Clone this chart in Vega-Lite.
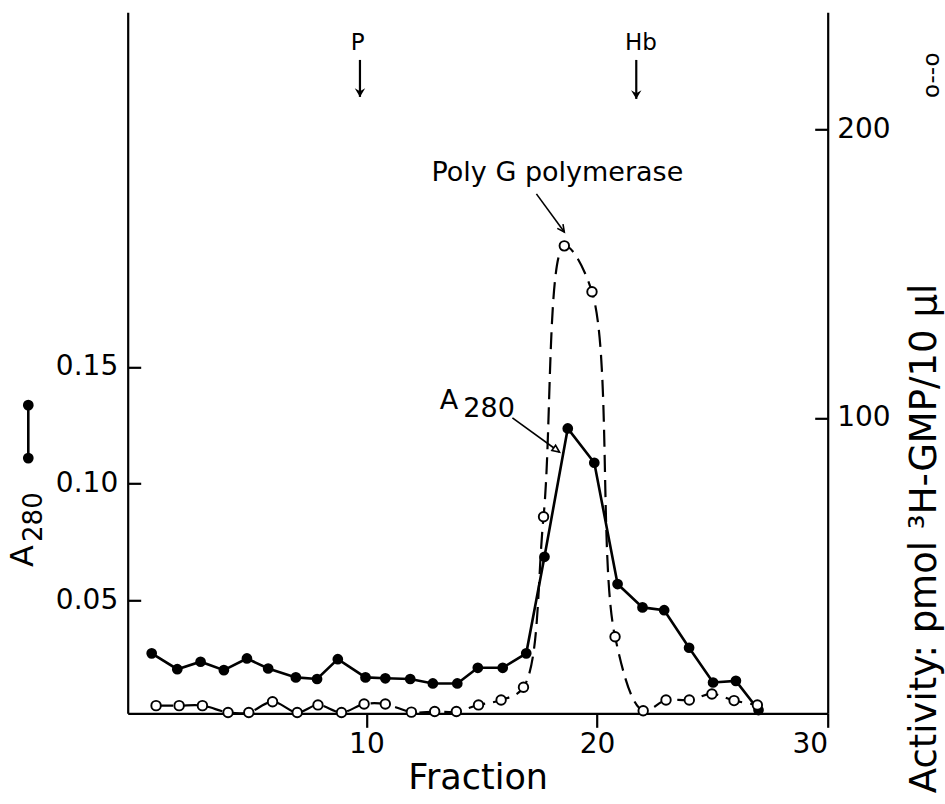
{
  "$schema": "https://vega.github.io/schema/vega-lite/v6.json",
  "width": 700,
  "height": 701,
  "autosize": {"type": "none"},
  "padding": {"left": 127.7, "top": 12.3, "right": 117.3, "bottom": 90.7},
  "background": "white",
  "config": {
    "view": {"stroke": null},
    "font": "DejaVu Sans",
    "axis": {
      "domainColor": "black", "tickColor": "black", "labelColor": "black", "titleColor": "black",
      "grid": false, "domainWidth": 2.2, "tickWidth": 2.2,
      "labelFont": "DejaVu Sans", "titleFont": "DejaVu Sans",
      "labelFontWeight": "normal", "titleFontWeight": "normal"
    }
  },
  "datasets": {
    "a280": [
      {"f": 0.69, "a": 0.0272}, {"f": 1.80, "a": 0.0204}, {"f": 2.81, "a": 0.0236}, {"f": 3.82, "a": 0.0200},
      {"f": 4.82, "a": 0.0250}, {"f": 5.74, "a": 0.0207}, {"f": 6.94, "a": 0.0169}, {"f": 7.86, "a": 0.0162},
      {"f": 8.76, "a": 0.0247}, {"f": 9.96, "a": 0.0169}, {"f": 10.82, "a": 0.0165}, {"f": 11.90, "a": 0.0162},
      {"f": 12.88, "a": 0.0143}, {"f": 13.94, "a": 0.0143}, {"f": 14.83, "a": 0.0210}, {"f": 15.91, "a": 0.0210},
      {"f": 16.93, "a": 0.0272}, {"f": 17.72, "a": 0.0686}, {"f": 18.73, "a": 0.1236}, {"f": 19.88, "a": 0.1089},
      {"f": 20.89, "a": 0.0569}, {"f": 21.97, "a": 0.0469}, {"f": 22.91, "a": 0.0457}, {"f": 23.99, "a": 0.0296},
      {"f": 25.03, "a": 0.0147}, {"f": 26.02, "a": 0.0154}, {"f": 27.00, "a": 0.0029}
    ],
    "activity": [
      {"f": 0.88, "v": 0.35}, {"f": 1.88, "v": 0.35}, {"f": 2.89, "v": 0.35}, {"f": 4.00, "v": -2.0},
      {"f": 4.90, "v": -2.0}, {"f": 5.93, "v": 1.7}, {"f": 7.00, "v": -2.0}, {"f": 7.90, "v": 0.6},
      {"f": 8.92, "v": -2.0}, {"f": 9.90, "v": 0.9}, {"f": 10.82, "v": 0.9}, {"f": 11.95, "v": -1.9},
      {"f": 12.96, "v": -1.7}, {"f": 13.90, "v": -1.7}, {"f": 14.86, "v": 0.6}, {"f": 15.84, "v": 2.3},
      {"f": 16.81, "v": 6.7}, {"f": 17.68, "v": 65.8}, {"f": 18.58, "v": 159.6}, {"f": 19.78, "v": 143.7},
      {"f": 20.78, "v": 24.2}, {"f": 22.00, "v": -1.4}, {"f": 22.99, "v": 2.3}, {"f": 24.00, "v": 2.3},
      {"f": 24.98, "v": 4.4}, {"f": 25.94, "v": 2.1}, {"f": 26.95, "v": 0.6}
    ],
    "markerNotes": [
      {"f": 9.62, "v": 229.9, "label": "P"},
      {"f": 21.9, "v": 229.9, "label": "Hb"}
    ],
    "polyNote": [{"f": 18.28, "v": 184.9, "label": "Poly G polymerase"}],
    "a280Note": [
      {"f": 13.58, "v": 106.0, "label": "A"},
      {"f": 15.32, "v": 103.1, "label": "280"}
    ],
    "markerArrows": [
      {"f": 9.72, "v": 224, "f2": 9.72, "v2": 211.2},
      {"f": 21.7, "v": 224, "f2": 21.7, "v2": 210.5}
    ],
    "polyArrow": [{"f": 17.37, "v": 177.6, "f2": 18.58, "v2": 164.4}],
    "a280Arrow": [{"f": 16.33, "v": 100.0, "f2": 18.37, "v2": 88.2}],
    "rightTitle": [{"f": 34.22, "v": -30, "label": "Activity: pmol ³H-GMP/10 μl"}],
    "rightSymbol": [{"f": 34.52, "v": 218.7, "label": "o--o"}],
    "leftSymbol": [{"f": -4.66, "a": 0.1336, "a2": 0.1109}],
    "leftSymbolEnds": [{"f": -4.66, "a": 0.1336}, {"f": -4.66, "a": 0.1109}],
    "leftTitleA": [{"f": -4.87, "a": 0.0689, "label": "A"}],
    "leftTitleSub": [{"f": -4.41, "a": 0.0856, "label": "280"}]
  },
  "layer": [
    {
      "layer": [
        {
          "data": {"name": "a280"},
          "mark": {"type": "line", "color": "black", "strokeWidth": 2.6},
          "encoding": {
            "x": {"field": "f", "type": "quantitative",
              "scale": {"domain": [-0.35, 30], "nice": false, "zero": false},
              "axis": {"orient": "bottom", "values": [10, 20, 30], "tickSize": 14, "labelPadding": 3,
                "labelFontSize": 28, "title": "Fraction", "titleFontSize": 35, "titlePadding": 2}},
            "y": {"field": "a", "type": "quantitative",
              "scale": {"domain": [0.0015, 0.302], "nice": false, "zero": false},
              "axis": {"orient": "left", "values": [0.05, 0.1, 0.15], "format": ".2f", "tickSize": -13,
                "labelPadding": 23, "labelFontSize": 28, "title": null}}
          }
        },
        {
          "data": {"name": "a280"},
          "mark": {"type": "point", "filled": true, "color": "black", "size": 115, "opacity": 1},
          "encoding": {
            "x": {"field": "f", "type": "quantitative"},
            "y": {"field": "a", "type": "quantitative"}
          }
        },
        {
          "data": {"name": "leftSymbol"},
          "mark": {"type": "rule", "color": "black", "strokeWidth": 2.6},
          "encoding": {
            "x": {"field": "f", "type": "quantitative"},
            "y": {"field": "a", "type": "quantitative"},
            "y2": {"field": "a2"}
          }
        },
        {
          "data": {"name": "leftSymbolEnds"},
          "mark": {"type": "point", "filled": true, "color": "black", "size": 115, "opacity": 1},
          "encoding": {
            "x": {"field": "f", "type": "quantitative"},
            "y": {"field": "a", "type": "quantitative"}
          }
        },
        {
          "data": {"name": "leftTitleA"},
          "mark": {"type": "text", "angle": 270, "fontSize": 32, "align": "center", "baseline": "middle", "color": "black"},
          "encoding": {
            "x": {"field": "f", "type": "quantitative"},
            "y": {"field": "a", "type": "quantitative"},
            "text": {"field": "label"}
          }
        },
        {
          "data": {"name": "leftTitleSub"},
          "mark": {"type": "text", "angle": 270, "fontSize": 26, "align": "center", "baseline": "middle", "color": "black"},
          "encoding": {
            "x": {"field": "f", "type": "quantitative"},
            "y": {"field": "a", "type": "quantitative"},
            "text": {"field": "label"}
          }
        }
      ]
    },
    {
      "layer": [
        {
          "data": {"name": "activity"},
          "mark": {"type": "line", "color": "black", "strokeWidth": 2.2, "strokeDash": [17, 8], "interpolate": "catmull-rom", "clip": true},
          "encoding": {
            "x": {"field": "f", "type": "quantitative"},
            "y": {"field": "v", "type": "quantitative",
              "scale": {"domain": [-2.3, 240.5], "nice": false, "zero": false},
              "axis": {"orient": "right", "values": [100, 200], "tickSize": -13, "labelPadding": 22,
                "labelFontSize": 28, "title": null}}
          }
        },
        {
          "data": {"name": "activity"},
          "mark": {"type": "point", "filled": true, "fill": "white", "stroke": "black", "strokeWidth": 1.9, "size": 90, "opacity": 1},
          "encoding": {
            "x": {"field": "f", "type": "quantitative"},
            "y": {"field": "v", "type": "quantitative"}
          }
        },
        {
          "data": {"name": "markerNotes"},
          "mark": {"type": "text", "fontSize": 23, "align": "center", "baseline": "middle", "color": "black"},
          "encoding": {
            "x": {"field": "f", "type": "quantitative"},
            "y": {"field": "v", "type": "quantitative"},
            "text": {"field": "label"}
          }
        },
        {
          "data": {"name": "polyNote"},
          "mark": {"type": "text", "fontSize": 27, "align": "center", "baseline": "middle", "color": "black"},
          "encoding": {
            "x": {"field": "f", "type": "quantitative"},
            "y": {"field": "v", "type": "quantitative"},
            "text": {"field": "label"}
          }
        },
        {
          "data": {"name": "a280Note"},
          "mark": {"type": "text", "fontSize": 27, "align": "center", "baseline": "middle", "color": "black"},
          "encoding": {
            "x": {"field": "f", "type": "quantitative"},
            "y": {"field": "v", "type": "quantitative"},
            "text": {"field": "label"}
          }
        },
        {
          "data": {"name": "markerArrows"},
          "mark": {"type": "rule", "color": "black", "strokeWidth": 2.2},
          "encoding": {
            "x": {"field": "f", "type": "quantitative"},
            "y": {"field": "v", "type": "quantitative"},
            "x2": {"field": "f2"},
            "y2": {"field": "v2"}
          }
        },
        {
          "data": {"name": "markerArrows"},
          "mark": {"type": "point", "shape": "M0,0L-0.6,-1L0,-0.65L0.6,-1Z", "filled": true, "color": "black", "size": 300, "opacity": 1},
          "encoding": {
            "x": {"field": "f2", "type": "quantitative"},
            "y": {"field": "v2", "type": "quantitative"}
          }
        },
        {
          "data": {"name": "polyArrow"},
          "mark": {"type": "rule", "color": "black", "strokeWidth": 1.6},
          "encoding": {
            "x": {"field": "f", "type": "quantitative"},
            "y": {"field": "v", "type": "quantitative"},
            "x2": {"field": "f2"},
            "y2": {"field": "v2"}
          }
        },
        {
          "data": {"name": "polyArrow"},
          "mark": {"type": "point", "shape": "M-0.5,-1L0,0L0.5,-1", "filled": false, "stroke": "black", "strokeWidth": 1.6, "size": 200, "angle": -36, "opacity": 1},
          "encoding": {
            "x": {"field": "f2", "type": "quantitative"},
            "y": {"field": "v2", "type": "quantitative"}
          }
        },
        {
          "data": {"name": "a280Arrow"},
          "mark": {"type": "rule", "color": "black", "strokeWidth": 1.6},
          "encoding": {
            "x": {"field": "f", "type": "quantitative"},
            "y": {"field": "v", "type": "quantitative"},
            "x2": {"field": "f2"},
            "y2": {"field": "v2"}
          }
        },
        {
          "data": {"name": "a280Arrow"},
          "mark": {"type": "point", "shape": "M-0.45,-1L0,0L0.45,-1Z", "filled": true, "fill": "white", "stroke": "black", "strokeWidth": 1.6, "size": 200, "angle": -54, "opacity": 1},
          "encoding": {
            "x": {"field": "f2", "type": "quantitative"},
            "y": {"field": "v2", "type": "quantitative"}
          }
        },
        {
          "data": {"name": "rightTitle"},
          "mark": {"type": "text", "angle": 270, "fontSize": 37, "align": "left", "baseline": "middle", "color": "black"},
          "encoding": {
            "x": {"field": "f", "type": "quantitative"},
            "y": {"field": "v", "type": "quantitative"},
            "text": {"field": "label"}
          }
        },
        {
          "data": {"name": "rightSymbol"},
          "mark": {"type": "text", "angle": 270, "fontSize": 23, "align": "center", "baseline": "middle", "color": "black"},
          "encoding": {
            "x": {"field": "f", "type": "quantitative"},
            "y": {"field": "v", "type": "quantitative"},
            "text": {"field": "label"}
          }
        }
      ]
    }
  ],
  "resolve": {"scale": {"y": "independent"}}
}
